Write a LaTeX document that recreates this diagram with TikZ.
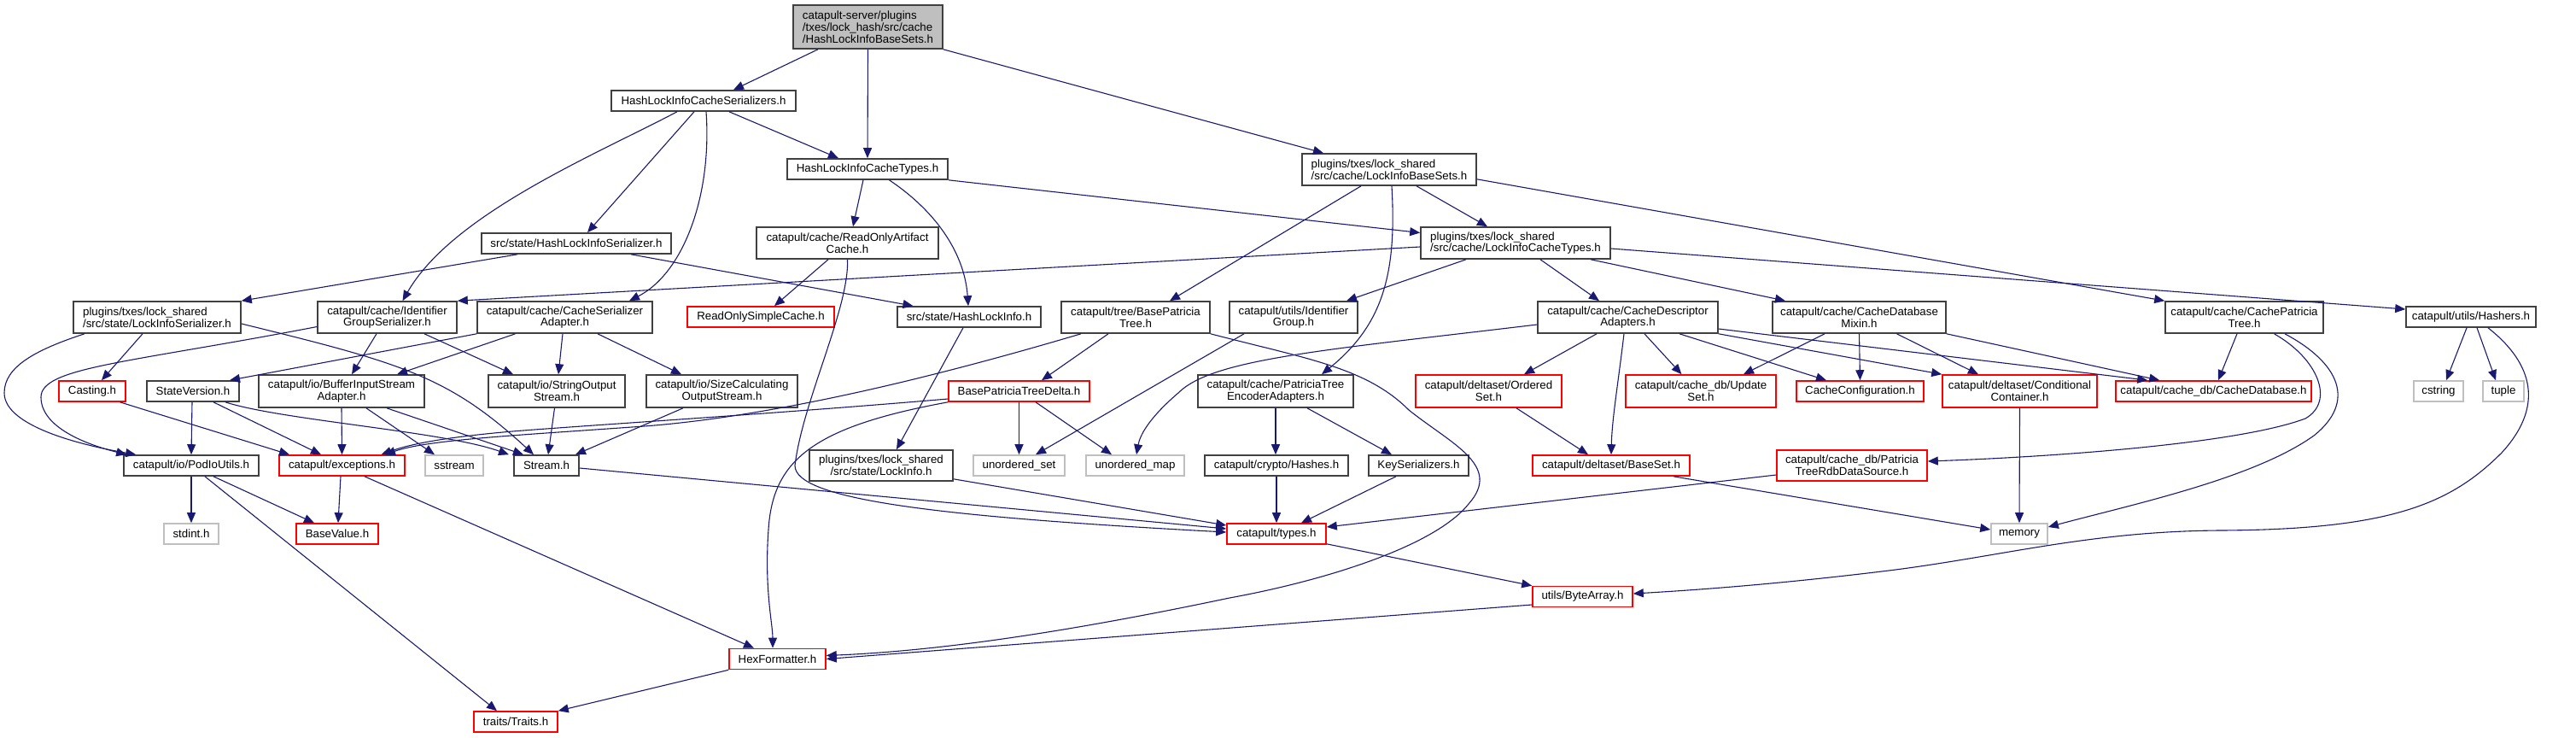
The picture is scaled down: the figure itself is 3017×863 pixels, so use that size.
\documentclass[tikz,border=0pt]{standalone}
\usepackage{fontspec}
\setmainfont{Liberation Sans}
\usetikzlibrary{arrows.meta,calc}
\definecolor{edgeblue}{HTML}{191970}
\definecolor{boxline}{HTML}{404040}
\definecolor{lightline}{HTML}{BFBFBF}
\definecolor{rootfill}{HTML}{BFBFBF}
\definecolor{redline}{HTML}{FF0000}
\newcommand\nodefont{\fontsize{13.3}{13.8}\selectfont}
\newcommand\ed[4]{\draw[edge] ([xshift=#2pt]#1.south) -- ([xshift=#4pt]#3.north);}
\tikzset{
  box/.style={draw=boxline, line width=1.6pt, fill=white, inner sep=0pt, align=center, font=\nodefont, minimum height=24pt},
  tall/.style={minimum height=37pt},
  redbox/.style={box, draw=redline},
  graybox/.style={box, draw=lightline},
  edge/.style={draw=edgeblue, line width=1.1pt, -{Triangle[length=12pt,width=10pt]}},
}
\begin{document}
\begin{tikzpicture}[x=1pt,y=-1pt]
\useasboundingbox (0,0) rectangle (3017,863);
% row 0
\node[box, fill=rootfill, minimum width=175pt, minimum height=51pt, align=left] (root) at (1016.5,31.5) {catapult-server/plugins\\/txes/lock\_hash/src/cache\\/HashLockInfoBaseSets.h};
% row 1
\node[box, minimum width=216pt] (hlics) at (824,118) {HashLockInfoCacheSerializers.h};
\node[box, minimum width=188pt] (hlict) at (1016,198) {HashLockInfoCacheTypes.h};
\node[box, tall, minimum width=204pt, align=left] (libs) at (1627,198.5) {plugins/txes/lock\_shared\\/src/cache/LockInfoBaseSets.h};
% row 2
\node[box, minimum width=222pt] (hliser) at (675,285) {src/state/HashLockInfoSerializer.h};
\node[box, tall, minimum width=213pt] (roac) at (992.5,284.5) {catapult/cache/ReadOnlyArtifact\\Cache.h};
\node[box, tall, minimum width=222pt, align=left] (lict) at (1775,284.5) {plugins/txes/lock\_shared\\/src/cache/LockInfoCacheTypes.h};
% row 3
\node[box, tall, minimum width=196pt, align=left] (liser) at (184,371.5) {plugins/txes/lock\_shared\\/src/state/LockInfoSerializer.h};
\node[box, tall, minimum width=163pt] (igs) at (453.5,371.5) {catapult/cache/Identifier\\GroupSerializer.h};
\node[box, tall, minimum width=205pt] (csa) at (661.5,371.5) {catapult/cache/CacheSerializer\\Adapter.h};
\node[redbox, minimum width=172pt] (rosc) at (891,371) {ReadOnlySimpleCache.h};
\node[box, minimum width=168pt] (hli) at (1135,371) {src/state/HashLockInfo.h};
\node[box, tall, minimum width=174pt] (bpt) at (1330,371.5) {catapult/tree/BasePatricia\\Tree.h};
\node[box, tall, minimum width=150pt] (ig) at (1515,371.5) {catapult/utils/Identifier\\Group.h};
\node[box, tall, minimum width=211pt] (cda) at (1906.5,371.5) {catapult/cache/CacheDescriptor\\Adapters.h};
\node[box, tall, minimum width=203pt] (cdm) at (2177.5,371.5) {catapult/cache/CacheDatabase\\Mixin.h};
\node[box, tall, minimum width=185pt] (cpt) at (2628.5,371.5) {catapult/cache/CachePatricia\\Tree.h};
\node[box, minimum width=152pt] (hashers) at (2894,371) {catapult/utils/Hashers.h};
% row 4
\node[redbox, minimum width=78pt] (casting) at (108,458) {Casting.h};
\node[box, minimum width=108pt] (sv) at (226,458) {StateVersion.h};
\node[box, minimum height=38pt, minimum width=194pt] (bisa) at (400,458) {catapult/io/BufferInputStream\\Adapter.h};
\node[box, minimum height=38pt, minimum width=160pt] (sos) at (652,458) {catapult/io/StringOutput\\Stream.h};
\node[box, minimum height=38pt, minimum width=177pt] (scos) at (845.5,458) {catapult/io/SizeCalculating\\OutputStream.h};
\node[redbox, minimum width=165pt] (bptd) at (1193.5,458) {BasePatriciaTreeDelta.h};
\node[box, minimum height=38pt, minimum width=182pt] (ptea) at (1494,458) {catapult/cache/PatriciaTree\\EncoderAdapters.h};
\node[redbox, minimum height=38pt, minimum width=171pt] (oset) at (1743.5,458) {catapult/deltaset/Ordered\\Set.h};
\node[redbox, minimum height=38pt, minimum width=176pt] (updset) at (1992,458) {catapult/cache\_db/Update\\Set.h};
\node[redbox, minimum width=149pt] (cconf) at (2178.5,458) {CacheConfiguration.h};
\node[redbox, minimum height=38pt, minimum width=181pt] (ccont) at (2365.5,458) {catapult/deltaset/Conditional\\Container.h};
\node[redbox, minimum width=229pt] (cdb) at (2592.5,458) {catapult/cache\_db/CacheDatabase.h};
\node[graybox, minimum width=58pt] (cstring) at (2856,458) {cstring};
\node[graybox, minimum width=48pt] (tuple) at (2932,458) {tuple};
% row 5
\node[box, minimum width=158pt] (podio) at (224,545) {catapult/io/PodIoUtils.h};
\node[redbox, minimum width=147pt] (exc) at (400.5,545) {catapult/exceptions.h};
\node[graybox, minimum width=68pt] (sstream) at (532,545) {sstream};
\node[box, minimum width=76pt] (stream) at (640,545) {Stream.h};
\node[box, minimum height=36pt, minimum width=168pt] (lockinfo) at (1032,545) {plugins/txes/lock\_shared\\/src/state/LockInfo.h};
\node[graybox, minimum width=107pt] (unset) at (1193.5,545) {unordered\_set};
\node[graybox, minimum width=115pt] (umap) at (1329.5,545) {unordered\_map};
\node[box, minimum width=168pt] (crypto) at (1495,545) {catapult/crypto/Hashes.h};
\node[box, minimum width=117pt] (keyser) at (1661.5,545) {KeySerializers.h};
\node[redbox, minimum width=184pt] (baseset) at (1887,545) {catapult/deltaset/BaseSet.h};
\node[redbox, minimum height=36pt, minimum width=176pt] (ptrds) at (2169,545) {catapult/cache\_db/Patricia\\TreeRdbDataSource.h};
% row 6
\node[graybox, minimum width=64pt] (stdint) at (224,625) {stdint.h};
\node[redbox, minimum width=96pt] (basevalue) at (395,625) {BaseValue.h};
\node[redbox, minimum width=116pt] (types) at (1495,625) {catapult/types.h};
\node[graybox, minimum width=66pt] (memory) at (2365,625) {memory};
% rows 7-9
\node[redbox, minimum width=117pt] (bytearray) at (1853.5,698.5) {utils/ByteArray.h};
\node[redbox, minimum width=113pt] (hexf) at (910.5,771.5) {HexFormatter.h};
\node[redbox, minimum width=98pt] (traits) at (604,845) {traits/Traits.h};

% ---- edges ----
\ed{root}{-58.5}{hlics}{35}
\ed{root}{0}{hlict}{0}
\draw[edge] (root.south east) -- ([xshift=-77pt]libs.north);
\draw[edge] ([xshift=-31pt]hlics.south) .. controls (700,180) and (530,250) .. ([xshift=18pt]igs.north);
\ed{hlics}{-11}{hliser}{13}
\draw[edge] ([xshift=3pt]hlics.south) .. controls (834,230) and (800,320) .. ([xshift=75.5pt]csa.north);
\ed{hlics}{30}{hlict}{-34}
\ed{hlict}{-5}{roac}{6.5}
\draw[edge] ([xshift=25.5pt]hlict.south) .. controls (1100,250) and (1130,300) .. ([xshift=-1pt]hli.north);
\draw[edge] (hlict.south east) -- ([yshift=12pt]lict.west);
\ed{libs}{-33}{bpt}{40}
\draw[edge] ([xshift=3pt]libs.south) .. controls (1636,320) and (1620,380) .. ([xshift=54pt]ptea.north);
\ed{libs}{32}{lict}{-33}
\draw[edge] ([yshift=8pt]libs.south east) -- (cpt.north west);
\draw[edge] ([xshift=-69pt]hliser.south) -- (liser.north east);
\ed{hliser}{64}{hli}{-65.5}
\ed{roac}{-22.5}{rosc}{16}
\draw[edge] ([xshift=0pt]roac.south) .. controls (995,360) and (940,470) .. (931,545) .. controls (931,585) and (1100,605) .. ([yshift=2pt]types.west);
\draw[edge] ([yshift=-4.5pt]lict.west) -- (igs.north east);
\ed{lict}{-58}{ig}{62}
\ed{lict}{29}{cda}{-33.5}
\ed{lict}{88}{cdm}{-86.5}
\draw[edge] ([yshift=-6.5pt]lict.east) -- ([yshift=9pt]hashers.west);
\draw[edge] ([yshift=-11pt]igs.west) .. controls (150,425) and (48,430) .. (48,465) .. controls (48,500) and (100,520) .. ([xshift=4pt]podio.north west);
\ed{igs}{-12.5}{bisa}{12}
\ed{igs}{43.5}{sos}{-51}
\draw[edge] ([xshift=-85pt]liser.south) .. controls (40,410) and (5,430) .. (5,460) .. controls (5,500) and (100,522) .. ([xshift=15pt]podio.north west);
\ed{liser}{-17}{casting}{11}
\draw[edge] ([yshift=-7.5pt]liser.east) .. controls (470,425) and (525,440) .. ([xshift=-15pt]stream.north);
\draw[edge] (csa.south west) -- ([xshift=43pt]sv.north);
\ed{csa}{-58}{bisa}{65}
\ed{csa}{-2.5}{sos}{2}
\ed{csa}{38.5}{scos}{-47.5}
\ed{sv}{-1}{podio}{0}
\ed{sv}{24}{exc}{-24.5}
\draw[edge] ([xshift=38pt]sv.south) .. controls (330,492) and (520,505) .. ([xshift=-44pt]stream.north);
\ed{casting}{32.5}{exc}{-61.5}
\ed{bisa}{0}{exc}{0}
\ed{bisa}{29}{sstream}{-23}
\ed{bisa}{53}{stream}{-27}
\ed{sos}{-2.5}{stream}{2}
\ed{scos}{-45.5}{stream}{34}
\draw[edge] ([xshift=-64pt]bpt.south) .. controls (1100,440) and (900,490) .. (740,500) .. controls (600,510) and (500,515) .. ([xshift=50.5pt]exc.north);
\draw[edge] ([yshift=-9pt]bptd.west) .. controls (900,485) and (700,497) .. (600,505) .. controls (520,512) and (480,520) .. ([xshift=46pt]exc.north);
\ed{bpt}{-32}{bptd}{26.5}
\draw[edge] (bpt.south east) .. controls (1530,420) and (1600,430) .. (1650,480) .. controls (1700,520) and (1760,545) .. (1720,590) .. controls (1680,640) and (1550,680) .. (1440,700) .. controls (1250,740) and (1100,762) .. ([yshift=4pt]hexf.east);
\ed{bptd}{0}{unset}{0}
\ed{bptd}{19.5}{umap}{-27.5}
\draw[edge] (bptd.south west) .. controls (950,500) and (905,540) .. (900,620) .. controls (895,690) and (905,730) .. ([xshift=-5.5pt]hexf.north);
\ed{hli}{-7}{lockinfo}{18}
\draw[edge] ([yshift=3pt]lockinfo.south east) -- ([yshift=10pt]types.west);
\draw[edge] ([yshift=-3pt]stream.east) -- ([yshift=6pt]types.west);
\ed{ig}{-58}{unset}{19.5}
\draw[edge] ([yshift=-8.5pt]cda.west) .. controls (1550,410) and (1420,420) .. (1380,460) .. controls (1345,490) and (1335,510) .. ([xshift=1.5pt]umap.north);
\ed{cda}{-36.5}{oset}{41.5}
\draw[edge] ([xshift=-4.5pt]cda.south) .. controls (1895,450) and (1888,490) .. ([xshift=0pt]baseset.north);
\ed{cda}{19.5}{updset}{-22.5}
\ed{cda}{60.5}{cconf}{-39.5}
\draw[edge] (cda.south east) -- (ccont.north west);
\draw[edge] ([yshift=-13.5pt]cda.east) -- ([xshift=38pt]cdb.north west);
\ed{cdm}{-40.5}{updset}{50}
\ed{cdm}{0}{cconf}{0}
\ed{cdm}{44}{ccont}{-48.5}
\draw[edge] (cdm.south east) -- ([xshift=52pt]cdb.north west);
\ed{cpt}{-8.5}{cdb}{5.5}
\draw[edge] ([xshift=35pt]cpt.south) .. controls (2715,420) and (2735,470) .. (2700,490) .. controls (2620,520) and (2400,535) .. ([yshift=5pt]ptrds.east);
\draw[edge] ([xshift=47.5pt]cpt.south) .. controls (2740,425) and (2760,470) .. (2710,510) .. controls (2640,560) and (2500,590) .. ([yshift=8pt]memory.east);
\ed{hashers}{-5}{cstring}{9}
\ed{hashers}{7}{tuple}{-9}
\draw[edge] ([xshift=20pt]hashers.south) .. controls (2960,420) and (2985,470) .. (2930,530) .. controls (2870,590) and (2800,620) .. (2600,621) .. controls (2450,622) and (2350,650) .. (2220,667) .. controls (2100,682) and (2000,690) .. ([yshift=3.5pt]bytearray.east);
\ed{ptea}{0}{crypto}{-1}
\ed{ptea}{37}{keyser}{-31.5}
\ed{oset}{32.5}{baseset}{-27}
\ed{ccont}{0}{memory}{0}
\draw[edge] ([xshift=73pt]baseset.south) -- ([yshift=5pt]memory.west);
\draw[edge] ([yshift=-11pt]ptrds.west) -- ([yshift=8pt]types.east);
\ed{crypto}{0}{types}{0}
\ed{keyser}{-26.5}{types}{29}
\draw[edge] ([yshift=1pt]types.south east) -- (bytearray.north west);
\draw[edge] ([yshift=-9.5pt]bytearray.west) -- ([yshift=0pt]hexf.east);
\ed{exc}{26.5}{hexf}{-27.5}
\ed{exc}{-1.5}{basevalue}{1}
\ed{podio}{0}{stdint}{0}
\ed{podio}{26}{basevalue}{-27}
\ed{podio}{16}{traits}{-22}
\draw[edge] (hexf.south west) -- (traits.north east);
\end{tikzpicture}
\end{document}
